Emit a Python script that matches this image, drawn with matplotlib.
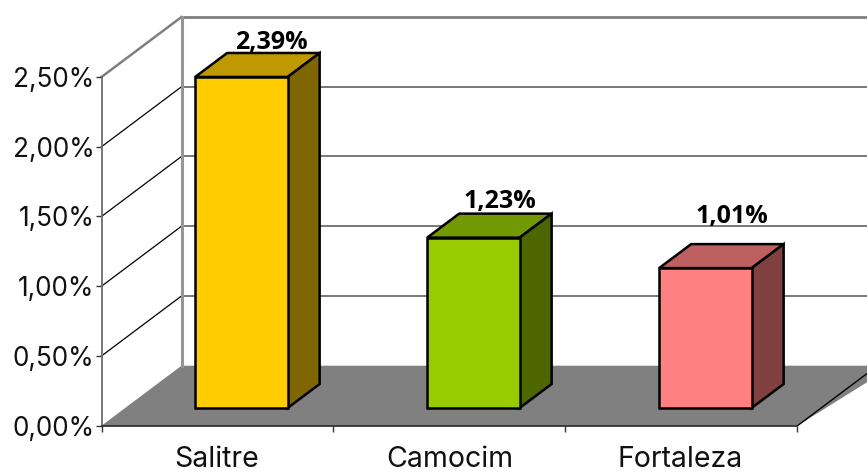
import matplotlib
matplotlib.use("Agg")
import matplotlib.pyplot as plt
from matplotlib.patches import Polygon

categories = ["Salitre", "Camocim", "Fortaleza"]
values = [2.39, 1.23, 1.01]
value_labels = ["2,39%", "1,23%", "1,01%"]
y_ticks = [0.0, 0.5, 1.0, 1.5, 2.0, 2.5]
y_tick_labels = ["0,00%", "0,50%", "1,00%", "1,50%", "2,00%", "2,50%"]

front_colors = ["#FFCC00", "#99CC00", "#FF8080"]
top_colors = ["#BF9900", "#739900", "#BF6060"]
side_colors = ["#806600", "#4D6600", "#804040"]

W, H = 867, 473
L, R, B, T = 101.5, 797.5, 425.7, 77.0

fig = plt.figure(figsize=(W / 100, H / 100), dpi=100)
ax = fig.add_axes([L / W, (H - B) / H, (R - L) / W, (B - T) / H])
ax.set_xlim(0, 3)
ax.set_ylim(0, 2.5)
ax.patch.set_visible(False)

sx = 3 / (R - L)        # data units per pixel, x
sy = 2.5 / (B - T)      # data units per pixel, y
DX, DY = 80 * sx, 60 * sy            # wall depth
bdx, bdy = 32 * sx, 24 * sy          # bar depth
fdx, fdy = 23.9 * sx, 17.7 * sy      # bar front offset from axis plane
BAR_W = 92.5 * sx
BAR_SCALE = 0.993
xmax = 3 + DX * 1.2


def poly(pts, fc="none", ec="none", lw=0, z=1):
    ax.add_patch(Polygon(pts, closed=True, facecolor=fc, edgecolor=ec, linewidth=lw,
                         zorder=z, clip_on=False, joinstyle="miter"))


# floor
poly([(0, 0), (DX, DY), (xmax, DY), (3, 0)], fc="#808080", z=1)
ax.plot([3, 3 + DX], [0, DY], color="black", lw=1, clip_on=False, zorder=1.5)

# walls
for i, t in enumerate(y_ticks):
    if i == 0:
        continue
    top = t == y_ticks[-1]
    c = "#808080" if top else "#6e6e6e"
    ax.plot([DX, xmax], [t + DY, t + DY], color=c, lw=2 if top else 1.3, clip_on=False, zorder=1)
    ax.plot([0, DX], [t, t + DY], color="#808080" if top else "black", lw=1.8 if top else 0.9,
            clip_on=False, zorder=1)
ax.plot([DX, DX], [DY, 2.5 + DY], color="#959595", lw=2.2, clip_on=False, zorder=1)

# bars
for i, v in enumerate(values):
    x0 = i + 0.5 - BAR_W / 2 + fdx
    x1 = x0 + BAR_W
    y0 = fdy
    y1 = y0 + v * BAR_SCALE
    ax.bar(x0, v * BAR_SCALE, width=BAR_W, bottom=y0, align="edge", color=front_colors[i],
           edgecolor="black", linewidth=1.8, zorder=3, clip_on=False)
    poly([(x0, y1), (x1, y1), (x1 + bdx, y1 + bdy), (x0 + bdx, y1 + bdy)],
         fc=top_colors[i], ec="black", lw=1.8, z=2.9)
    poly([(x1, y0), (x1 + bdx, y0 + bdy), (x1 + bdx, y1 + bdy), (x1, y1)],
         fc=side_colors[i], ec="black", lw=1.8, z=2.9)

# value labels
label_offsets = [(-2, 10), (-6, 12), (-6, 28)]
for i, v in enumerate(values):
    xc = i + 0.5 + fdx + bdx
    yt = fdy + v * BAR_SCALE + bdy
    ax.annotate(value_labels[i], (xc, yt), xytext=label_offsets[i], textcoords="offset pixels",
                ha="center", va="center", fontsize=18, fontweight="bold",
                family="Open Sans", color="black", zorder=5, annotation_clip=False)

# axes
for s in ("top", "right"):
    ax.spines[s].set_visible(False)
ax.spines["left"].set_color("#6e6e6e")
ax.spines["left"].set_linewidth(1.3)
ax.spines["bottom"].set_color("#222222")
ax.spines["bottom"].set_linewidth(1.2)
ax.set_yticks(y_ticks)
ax.set_yticklabels(y_tick_labels, family="Inter", fontsize=18.8, color="#111111")
ax.set_xticks([0, 1, 2, 3])
ax.set_xticklabels([])
ax.tick_params(axis="y", length=4.5, width=1, color="#333333", pad=0.5)
ax.tick_params(axis="x", length=4.5, width=1, color="#333333")
x_label_shift = [-1, 0, -1]
for i, c in enumerate(categories):
    ax.annotate(c, (i + 0.5, 0), xytext=(x_label_shift[i], -34), textcoords="offset pixels", ha="center",
                va="center", family="Inter", fontsize=20.5, color="#111111", annotation_clip=False)

fig.savefig("out.png", dpi=100, facecolor="white")
